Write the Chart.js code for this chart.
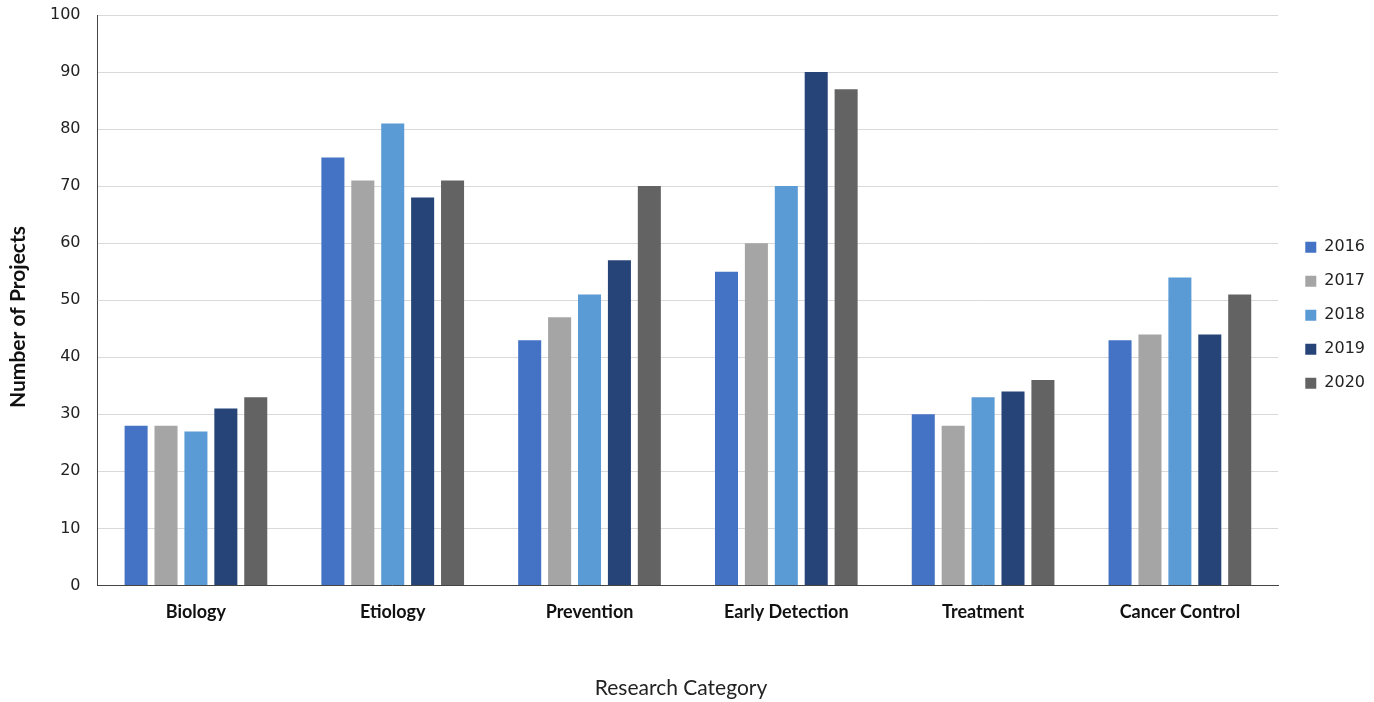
<!DOCTYPE html>
<html>
<head>
<meta charset="utf-8">
<script src="https://cdn.jsdelivr.net/npm/chart.js@4"></script>
<style>
  html, body { margin: 0; padding: 0; background: #fff; }
  .wrap { width: 1374px; height: 702px; position: relative; }
</style>
</head>
<body>
<div class="wrap"><canvas id="myChart"></canvas></div>
<script>
const categories = ['Biology', 'Etiology', 'Prevention', 'Early Detection', 'Treatment', 'Cancer Control'];
const years = ['2016', '2017', '2018', '2019', '2020'];

// projects per category, one list per year
const y2016 = [28, 75, 43, 55, 30, 43];
const y2017 = [28, 71, 47, 60, 28, 44];
const y2018 = [27, 81, 51, 70, 33, 54];
const y2019 = [31, 68, 57, 90, 34, 44];
const y2020 = [33, 71, 70, 87, 36, 51];

const colors = ['#4472c4', '#a5a5a5', '#5b9bd5', '#264478', '#636363'];
const series = [y2016, y2017, y2018, y2019, y2020];

const cht = document.getElementById('myChart').getContext('2d');

const data = {
  labels: categories,
  datasets: series.map((vals, i) => ({
    label: years[i],
    data: vals,
    backgroundColor: colors[i],
    barPercentage: 0.77,
    categoryPercentage: 0.76
  }))
};

// nudge the legend a bit away from the plot
const legendShift = {
  id: 'legendShift',
  afterLayout(chart) {
    const lg = chart.legend;
    lg.left += 9; lg.right += 9;
    lg.top += 15; lg.bottom += 15;
  }
};

// axis titles, placed by hand in the padding space
const axisTitles = {
  id: 'axisTitles',
  afterDraw(chart) {
    const ctx = chart.ctx;
    ctx.save();
    ctx.textAlign = 'center';
    ctx.textBaseline = 'middle';
    ctx.fillStyle = '#222';
    ctx.font = '21px Lato';
    ctx.fillText('Research Category', 681, 688);
    ctx.translate(18, 317);
    ctx.rotate(-Math.PI / 2);
    ctx.fillStyle = '#111';
    ctx.font = 'bold 21px Lato';
    ctx.fillText('Number of Projects', 0, 0);
    ctx.restore();
  }
};

const config = {
  type: 'bar',
  data: data,
  plugins: [legendShift, axisTitles],
  options: {
    responsive: true,
    maintainAspectRatio: false,
    animation: false,
    layout: { padding: { top: 15, right: 8, left: 33, bottom: 63 } },
    plugins: {
      tooltip: { enabled: false },
      legend: {
        position: 'right',
        fullSize: false,
        labels: {
          boxWidth: 11,
          boxHeight: 11,
          padding: 18,
          color: '#222',
          font: { family: 'DejaVu Sans', size: 16 }
        }
      }
    },
    scales: {
      x: {
        grid: { display: false, drawTicks: false },
        border: { color: '#444', width: 1 },
        ticks: {
          padding: 16,
          color: '#111',
          font: { family: 'Lato', size: 18, weight: 'bold' }
        }
      },
      y: {
        min: 0,
        max: 100,
        afterFit(scale) {
          scale.paddingTop = 0;
          scale.paddingBottom = 0;
        },
        ticks: {
          stepSize: 10,
          padding: 17,
          color: '#222',
          font: { family: 'DejaVu Sans', size: 16 }
        },
        grid: { color: '#d9d9d9', drawTicks: false },
        border: { color: '#444', width: 1 }
      }
    }
  }
};

const myChart = new Chart(cht, config);
</script>
</body>
</html>
